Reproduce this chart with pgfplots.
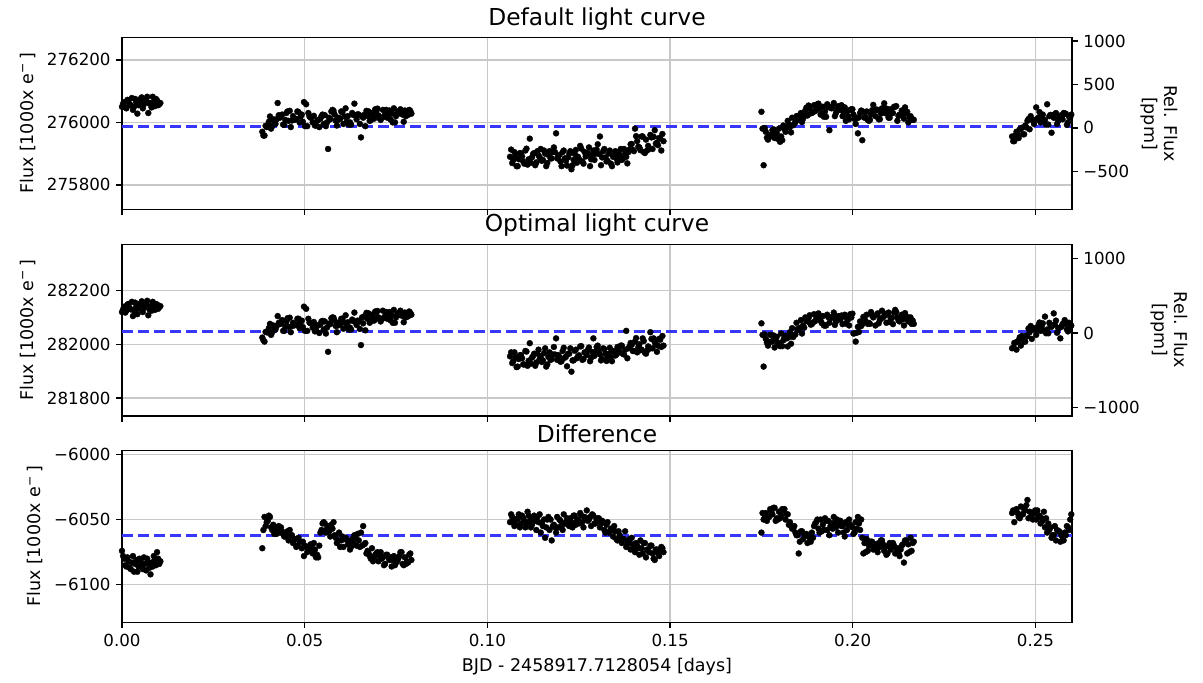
\documentclass[border=0pt]{standalone}
\usepackage{fontspec}
\setmainfont{DejaVu Sans}
\usepackage{pgfplots}
\usepackage{pgfplotstable}
\pgfplotsset{compat=1.18}
\definecolor{meanblue}{RGB}{55,55,255}
\definecolor{gridgray}{RGB}{200,200,200}

% time, default flux, optimal flux, difference
\pgfplotstableread{
t dflt opt diff
0.0000 276050 282120 -6074
0.0006 276065 282140 -6080
0.0012 276045 282125 -6086
0.0018 276070 282150 -6082
0.0024 276055 282130 -6088
0.0030 276040 282105 -6078
0.0036 276075 282155 -6084
0.0042 276028 282112 -6090
0.0048 276068 282145 -6080
0.0054 276080 282160 -6085
0.0060 276058 282135 -6079
0.0066 276072 282150 -6089
0.0072 276030 282108 -6083
0.0078 276062 282142 -6092
0.0084 276082 282158 -6086
0.0090 276052 282128 -6081
0.0096 276070 282148 -6075
0.0102 276058 282138 -6084
0.0003 276060 282130 -6078
0.0009 276048 282118 -6085
0.0015 276072 282148 -6079
0.0021 276058 282135 -6087
0.0027 276078 282158 -6083
0.0033 276050 282125 -6090
0.0039 276065 282140 -6081
0.0045 276055 282132 -6086
0.0051 276075 282152 -6082
0.0057 276045 282120 -6088
0.0063 276068 282145 -6084
0.0069 276082 282162 -6080
0.0075 276060 282130 -6087
0.0081 276048 282125 -6083
0.0087 276066 282140 -6078
0.0093 276075 282150 -6085
0.0099 276055 282132 -6080
0.0105 276062 282142 -6082
0.0384 275970 282025 -6072
0.0390 275958 282010 -6048
0.0396 275985 282045 -6052
0.0402 276002 282060 -6047
0.0408 275980 282035 -6056
0.0414 276010 282070 -6054
0.0420 275995 282055 -6058
0.0426 276062 282105 -6056
0.0432 276015 282075 -6060
0.0438 276025 282090 -6059
0.0444 275992 282050 -6063
0.0450 276030 282085 -6061
0.0456 276005 282065 -6066
0.0462 275985 282045 -6062
0.0468 276020 282080 -6068
0.0474 276010 282072 -6065
0.0480 276035 282095 -6070
0.0486 276000 282060 -6067
0.0492 276025 282088 -6072
0.0498 276065 282140 -6078
0.0504 276058 282132 -6071
0.0510 276030 282095 -6074
0.0516 276015 282078 -6069
0.0522 276000 282062 -6076
0.0528 275990 282048 -6073
0.0534 276005 282070 -6077
0.0540 275985 282042 -6070
0.0546 276020 282085 -6058
0.0552 275995 282055 -6052
0.0558 275988 282040 -6060
0.0564 275915 281972 -6055
0.0570 276010 282075 -6063
0.0576 276040 282100 -6057
0.0582 276025 282088 -6062
0.0588 275990 282045 -6068
0.0594 276015 282080 -6060
0.0600 276035 282095 -6066
0.0606 275995 282058 -6071
0.0612 276045 282108 -6064
0.0618 276020 282082 -6069
0.0624 276000 282062 -6073
0.0630 276030 282092 -6065
0.0636 276060 282118 -6062
0.0642 276010 282072 -6070
0.0648 276025 282085 -6066
0.0654 275952 281997 -6060
0.0660 276015 282078 -6055
0.0666 275988 282052 -6068
0.0672 276020 282095 -6074
0.0678 276005 282080 -6078
0.0684 276030 282110 -6072
0.0690 276012 282088 -6080
0.0696 276035 282118 -6076
0.0702 276022 282100 -6082
0.0708 276008 282085 -6075
0.0714 276040 282125 -6079
0.0720 276025 282105 -6084
0.0726 276015 282095 -6077
0.0732 276038 282120 -6081
0.0738 276028 282108 -6086
0.0744 276045 282128 -6078
0.0750 276020 282100 -6083
0.0756 276035 282115 -6080
0.0762 276042 282125 -6075
0.0768 276025 282105 -6084
0.0774 276038 282118 -6079
0.0780 276030 282112 -6082
0.0786 276040 282122 -6077
0.0792 276028 282110 -6081
0.0387 275958 282015 -6058
0.0393 275989 282046 -6055
0.0399 275987 282044 -6051
0.0405 276019 282076 -6048
0.0411 275988 282045 -6058
0.0417 276006 282063 -6061
0.0423 276010 282067 -6061
0.0429 276023 282080 -6055
0.0435 276021 282078 -6056
0.0441 275993 282050 -6061
0.0447 276008 282065 -6063
0.0453 276035 282097 -6059
0.0459 276037 282099 -6058
0.0465 276006 282068 -6062
0.0471 276008 282070 -6065
0.0477 276011 282073 -6071
0.0483 276033 282095 -6064
0.0489 276019 282081 -6067
0.0495 276002 282064 -6067
0.0501 275988 282050 -6070
0.0507 275988 282050 -6075
0.0513 276019 282081 -6073
0.0519 276017 282079 -6070
0.0525 276021 282083 -6068
0.0531 275990 282052 -6079
0.0537 276008 282070 -6079
0.0543 276012 282074 -6060
0.0549 276025 282087 -6053
0.0555 276023 282085 -6053
0.0561 276000 282062 -6057
0.0567 276015 282077 -6059
0.0573 276035 282097 -6054
0.0579 276037 282099 -6052
0.0585 276006 282068 -6064
0.0591 276008 282070 -6066
0.0597 276011 282073 -6071
0.0603 276033 282095 -6063
0.0609 276019 282081 -6065
0.0615 276002 282064 -6065
0.0621 275993 282055 -6067
0.0627 275993 282055 -6071
0.0633 276024 282086 -6068
0.0639 276022 282084 -6064
0.0645 276026 282088 -6061
0.0651 275995 282057 -6071
0.0657 276020 282100 -6070
0.0663 276024 282104 -6069
0.0669 276037 282117 -6076
0.0675 276035 282115 -6076
0.0681 276007 282087 -6080
0.0687 276022 282102 -6082
0.0693 276042 282122 -6077
0.0699 276044 282124 -6075
0.0705 276013 282093 -6078
0.0711 276015 282095 -6080
0.0717 276018 282098 -6085
0.0723 276040 282120 -6077
0.0729 276026 282106 -6079
0.0735 276009 282089 -6079
0.0741 276000 282080 -6081
0.0747 276000 282080 -6085
0.0753 276031 282111 -6082
0.0759 276029 282109 -6078
0.0765 276033 282113 -6075
0.0771 276002 282082 -6085
0.0777 276020 282100 -6084
0.0783 276024 282104 -6083
0.0789 276037 282117 -6076
0.1062 275890 281955 -6052
0.1068 275870 281930 -6048
0.1074 275905 281970 -6055
0.1080 275860 281915 -6050
0.1086 275882 281945 -6046
0.1092 275900 281960 -6053
0.1098 275875 281925 -6049
0.1104 275910 281975 -6056
0.1110 275865 281920 -6044
0.1116 275948 282004 -6051
0.1122 275888 281950 -6054
0.1128 275902 281965 -6047
0.1134 275872 281932 -6058
0.1140 275895 281980 -6052
0.1146 275915 281955 -6060
0.1152 275880 281940 -6055
0.1158 275900 281985 -6064
0.1164 275870 281925 -6050
0.1170 275908 281970 -6058
0.1176 275885 281945 -6066
0.1182 275920 281990 -6054
0.1188 275965 282022 -6060
0.1194 275892 281960 -6056
0.1200 275875 281935 -6051
0.1206 275905 281975 -6058
0.1212 275885 281950 -6053
0.1218 275862 281918 -6049
0.1224 275900 281965 -6055
0.1230 275850 281898 -6052
0.1236 275880 281940 -6047
0.1242 275912 281980 -6054
0.1248 275890 281955 -6050
0.1254 275925 281992 -6045
0.1260 275875 281942 -6052
0.1266 275905 281970 -6048
0.1272 275895 281960 -6043
0.1278 275920 281988 -6050
0.1284 275882 281950 -6055
0.1290 275910 282022 -6047
0.1296 275900 281972 -6053
0.1302 275930 281995 -6049
0.1308 275955 281962 -6056
0.1314 275888 281945 -6051
0.1320 275915 281982 -6058
0.1326 275875 281938 -6054
0.1332 275900 281965 -6060
0.1338 275868 281952 -6057
0.1344 275890 281975 -6063
0.1350 275908 281958 -6059
0.1356 275872 281990 -6066
0.1362 275895 281970 -6062
0.1368 275880 281995 -6068
0.1374 275915 281962 -6065
0.1380 275890 282050 -6071
0.1386 275905 281985 -6067
0.1392 275930 282005 -6073
0.1398 275912 281975 -6069
0.1404 275980 282010 -6075
0.1410 275940 281970 -6070
0.1416 275920 282000 -6077
0.1422 275955 281980 -6072
0.1428 275905 282012 -6068
0.1434 275945 281965 -6079
0.1440 275925 281992 -6074
0.1446 275960 282045 -6070
0.1452 275915 281985 -6076
0.1458 275975 282008 -6081
0.1464 275935 281972 -6073
0.1470 275950 282020 -6078
0.1476 275910 281990 -6071
0.1482 275940 281995 -6075
0.1065 275913 281970 -6046
0.1071 275880 281937 -6052
0.1077 275894 281951 -6054
0.1083 275860 281917 -6049
0.1089 275902 281959 -6056
0.1095 275891 281948 -6047
0.1101 275868 281925 -6051
0.1107 275916 281973 -6053
0.1113 275882 281939 -6047
0.1119 275871 281928 -6056
0.1125 275899 281956 -6049
0.1131 275863 281920 -6051
0.1137 275908 281965 -6048
0.1143 275888 281945 -6046
0.1149 275877 281934 -6053
0.1155 275910 281967 -6050
0.1161 275860 281917 -6056
0.1167 275896 281953 -6048
0.1173 275885 281942 -6050
0.1179 275905 281962 -6055
0.1185 275905 281962 -6056
0.1191 275885 281942 -6048
0.1197 275896 281953 -6050
0.1203 275860 281937 -6055
0.1209 275910 281987 -6046
0.1215 275877 281954 -6052
0.1221 275888 281965 -6054
0.1227 275908 281985 -6049
0.1233 275863 281940 -6056
0.1239 275899 281976 -6047
0.1245 275871 281948 -6051
0.1251 275882 281959 -6053
0.1257 275916 281993 -6047
0.1263 275868 281945 -6056
0.1269 275891 281968 -6049
0.1275 275902 281979 -6051
0.1281 275860 281937 -6048
0.1287 275894 281971 -6046
0.1293 275880 281957 -6053
0.1299 275913 281990 -6050
0.1305 275899 281976 -6049
0.1311 275863 281940 -6053
0.1317 275908 281985 -6052
0.1323 275888 281965 -6060
0.1329 275877 281954 -6052
0.1335 275910 281987 -6059
0.1341 275860 281937 -6058
0.1347 275896 281973 -6055
0.1353 275885 281962 -6065
0.1359 275905 281982 -6059
0.1365 275915 281995 -6066
0.1371 275884 281964 -6065
0.1377 275900 281980 -6059
0.1383 275869 281948 -6069
0.1389 275913 281992 -6065
0.1395 275931 281998 -6064
0.1401 275908 281975 -6073
0.1407 275956 282023 -6068
0.1413 275922 281989 -6072
0.1419 275911 281978 -6066
0.1425 275955 282022 -6076
0.1431 275902 281969 -6068
0.1437 275910 281977 -6073
0.1443 275915 281983 -6075
0.1449 275952 282020 -6070
0.1455 275954 282022 -6080
0.1461 275932 282000 -6073
0.1467 275927 281995 -6076
0.1473 275949 282017 -6073
0.1479 275963 282031 -6072
0.1750 276034 282078 -6060
0.1756 275863 281917 -6050
0.1762 275970 282020 -6045
0.1768 275945 281995 -6048
0.1774 275960 282035 -6042
0.1780 275975 282010 -6046
0.1786 275950 281988 -6041
0.1792 275965 282028 -6049
0.1798 275980 282005 -6044
0.1804 275955 282040 -6047
0.1810 275990 282015 -6043
0.1816 275970 282032 -6050
0.1822 276005 281992 -6046
0.1828 275985 282045 -6052
0.1834 276015 282060 -6057
0.1840 275995 282035 -6055
0.1846 276020 282080 -6062
0.1852 276008 282055 -6076
0.1858 276030 282090 -6059
0.1864 276012 282070 -6065
0.1870 276038 282100 -6062
0.1876 276022 282085 -6068
0.1882 276045 282108 -6064
0.1888 276030 282075 -6060
0.1894 276055 282112 -6055
0.1900 276040 282095 -6052
0.1906 276060 282115 -6057
0.1912 276025 282088 -6050
0.1918 276050 282105 -6054
0.1924 276035 282070 -6049
0.1930 276058 282110 -6058
0.1936 275975 282080 -6062
0.1942 276045 282098 -6053
0.1948 276062 282118 -6048
0.1954 276030 282085 -6056
0.1960 276052 282105 -6060
0.1966 276040 282092 -6051
0.1972 276020 282075 -6055
0.1978 276048 282110 -6063
0.1984 276035 282095 -6058
0.1990 276010 282070 -6050
0.1996 276042 282100 -6055
0.2002 276025 282040 -6061
0.2008 275995 282010 -6052
0.2014 275965 282065 -6048
0.2020 276030 282085 -6058
0.2026 275943 282075 -6064
0.2032 276015 282095 -6068
0.2038 276035 282110 -6065
0.2044 276005 282080 -6070
0.2050 276025 282120 -6067
0.2056 276056 282100 -6073
0.2062 276020 282070 -6069
0.2068 276040 282115 -6075
0.2074 276010 282090 -6071
0.2080 276045 282125 -6066
0.2086 276061 282105 -6074
0.2092 276028 282080 -6077
0.2098 276015 282118 -6070
0.2104 276042 282095 -6073
0.2110 276030 282075 -6068
0.2116 276050 282128 -6076
0.2122 276005 282100 -6072
0.2128 276025 282085 -6078
0.2134 276038 282110 -6070
0.2140 276012 282070 -6083
0.2146 276030 282095 -6066
0.2152 276000 282085 -6069
0.2158 276020 282100 -6064
0.2164 276010 282088 -6068
0.1753 275980 282035 -6045
0.1759 275982 282037 -6047
0.1765 275951 282006 -6051
0.1771 275953 282008 -6048
0.1777 275956 282011 -6044
0.1783 275978 282033 -6041
0.1789 275964 282019 -6051
0.1795 275947 282002 -6050
0.1801 275938 281993 -6049
0.1807 275943 281993 -6042
0.1813 275980 282024 -6042
0.1819 275983 282022 -6046
0.1825 275993 282026 -6054
0.1831 275968 282002 -6055
0.1837 275991 282027 -6057
0.1843 276001 282037 -6060
0.1849 276020 282057 -6062
0.1855 276023 282061 -6067
0.1861 276001 282040 -6059
0.1867 276021 282062 -6061
0.1873 276047 282088 -6061
0.1879 276054 282097 -6063
0.1885 276029 282073 -6067
0.1891 276033 282081 -6064
0.1897 276036 282086 -6053
0.1903 276058 282110 -6050
0.1909 276044 282096 -6060
0.1915 276027 282079 -6059
0.1921 276018 282070 -6058
0.1927 276018 282070 -6051
0.1933 276049 282101 -6051
0.1939 276047 282099 -6055
0.1945 276051 282103 -6057
0.1951 276020 282072 -6052
0.1957 276038 282090 -6050
0.1963 276042 282094 -6053
0.1969 276055 282107 -6055
0.1975 276033 282105 -6060
0.1981 276005 282077 -6052
0.1987 276020 282092 -6054
0.1993 276040 282112 -6054
0.1999 276042 282114 -6056
0.2005 276011 282041 -6060
0.2011 276013 282043 -6057
0.2017 276016 282046 -6053
0.2023 276038 282068 -6050
0.2029 276034 282102 -6076
0.2035 276017 282085 -6075
0.2041 276008 282076 -6074
0.2047 276008 282076 -6067
0.2053 276039 282107 -6067
0.2059 276037 282105 -6071
0.2065 276041 282109 -6073
0.2071 276010 282078 -6068
0.2077 276028 282096 -6066
0.2083 276032 282100 -6069
0.2089 276045 282113 -6071
0.2095 276043 282111 -6076
0.2101 276015 282083 -6068
0.2107 276030 282098 -6070
0.2113 276050 282118 -6070
0.2119 276052 282120 -6072
0.2125 276021 282089 -6076
0.2131 276023 282091 -6073
0.2137 276026 282094 -6069
0.2143 276048 282116 -6066
0.2149 276034 282102 -6076
0.2155 276017 282085 -6075
0.2161 276008 282076 -6074
0.2167 276008 282076 -6067
0.2436 275955 281985 -6045
0.2442 275940 282005 -6052
0.2448 275970 281980 -6042
0.2454 275950 282015 -6048
0.2460 275980 281995 -6040
0.2466 275962 282025 -6046
0.2472 275990 282010 -6043
0.2478 276005 282030 -6035
0.2484 275978 282045 -6044
0.2490 276010 282020 -6048
0.2496 275995 282060 -6045
0.2502 276048 282035 -6050
0.2508 276015 282070 -6047
0.2514 276000 282050 -6053
0.2520 276025 282078 -6051
0.2526 276008 282103 -6056
0.2532 276058 282055 -6060
0.2538 276020 282080 -6058
0.2544 275967 282065 -6064
0.2550 276015 282115 -6062
0.2556 276030 282088 -6066
0.2562 276005 282060 -6059
0.2568 276022 282022 -6067
0.2574 276010 282075 -6063
0.2580 276028 282090 -6060
0.2586 275992 282055 -6055
0.2592 276018 282080 -6058
0.2598 276025 282070 -6046
0.2439 275940 281988 -6043
0.2445 275958 282006 -6043
0.2451 275962 282010 -6045
0.2457 275978 282026 -6049
0.2463 275983 282031 -6046
0.2469 275962 282010 -6042
0.2475 275984 282032 -6039
0.2481 276011 282059 -6049
0.2487 276020 282068 -6048
0.2493 276006 282054 -6050
0.2499 276008 282056 -6043
0.2505 276011 282059 -6043
0.2511 276033 282081 -6047
0.2517 276019 282067 -6049
0.2523 276002 282050 -6044
0.2529 275993 282041 -6049
0.2535 275993 282041 -6053
0.2541 276024 282072 -6056
0.2547 276022 282070 -6062
0.2553 276026 282074 -6055
0.2559 275995 282043 -6058
0.2565 276013 282061 -6059
0.2571 276017 282065 -6062
0.2577 276030 282078 -6066
0.2583 276028 282076 -6062
0.2589 276000 282048 -6056
0.2595 276015 282063 -6050
}\lcdata

\pgfplotsset{
  panel/.style={
    scale only axis, width=570pt, height=103pt,
    xmin=0, xmax=0.26,
    xtick={0,0.05,0.1,0.15,0.2,0.25},
    scaled x ticks=false, scaled y ticks=false,
    grid=major, major grid style={gridgray, line width=0.8pt},
    axis line style={black, line width=0.8pt},
    tick style={black, line width=0.8pt},
    tick align=outside, major tick length=3.3pt,
    xtick pos=bottom, ytick pos=left,
    tick label style={font=\fontsize{10}{12}\selectfont},
    label style={font=\fontsize{10.5}{12}\selectfont},
    title style={font=\fontsize{14}{16}\selectfont, yshift=-5pt},
    ylabel={Flux [1000x e\textsuperscript{−}\,]},
  },
  twin/.style={
    scale only axis, width=570pt, height=103pt,
    xmin=0, xmax=0.26,
    axis x line=none, axis y line*=right,
    scaled y ticks=false,
    axis line style={black, line width=0.8pt},
    tick style={black, line width=0.8pt},
    tick align=outside, major tick length=3.3pt,
    tick label style={font=\fontsize{10}{12}\selectfont},
    label style={font=\fontsize{10.5}{12}\selectfont},
    ylabel={Rel. Flux\\{[ppm]}},
    ylabel style={align=center, rotate=180},
  },
  pts/.style={only marks, mark=*, mark size=1.8pt,
    mark options={draw=black, fill=black, line width=0.2pt}},
  meanline/.style={meanblue, line width=1.8pt, dash pattern=on 6.6pt off 3pt, no marks},
}

\begin{document}
\begin{tikzpicture}
\useasboundingbox (-73.2pt,22.6pt) rectangle (648.6pt,-386.6pt);

% default light curve
\begin{axis}[panel, at={(0pt,0pt)}, anchor=north west,
  title={Default light curve},
  ymin=275722, ymax=276271,
  ytick={275800,276000,276200}, yticklabels={275800,276000,276200},
  xticklabels={,,,,,}]
\addplot[pts] table[x=t, y=dflt] {\lcdata};
\addplot[meanline] coordinates {(0,275986) (0.26,275986)};
\end{axis}
\begin{axis}[twin, at={(0pt,0pt)}, anchor=north west,
  ymin=-940, ymax=1040,
  ytick={-500,0,500,1000}, yticklabels={−500,0,500,1000}]
\end{axis}

% optimal light curve
\begin{axis}[panel, at={(0pt,-124pt)}, anchor=north west,
  title={Optimal light curve},
  ymin=281733, ymax=282372,
  ytick={281800,282000,282200}, yticklabels={281800,282000,282200},
  xticklabels={,,,,,}]
\addplot[pts] table[x=t, y=opt] {\lcdata};
\addplot[meanline] coordinates {(0,282048) (0.26,282048)};
\end{axis}
\begin{axis}[twin, at={(0pt,-124pt)}, anchor=north west,
  ymin=-1111, ymax=1187,
  ytick={-1000,0,1000}, yticklabels={−1000,0,1000}]
\end{axis}

% difference
\begin{axis}[panel, at={(0pt,-247.8pt)}, anchor=north west,
  title={Difference},
  ymin=-6128.8, ymax=-5997.2,
  ytick={-6100,-6050,-6000}, yticklabels={−6100,−6050,−6000},
  xticklabels={0.00,0.05,0.10,0.15,0.20,0.25},
  xlabel={BJD - 2458917.7128054 [days]}]
\addplot[pts] table[x=t, y=diff] {\lcdata};
\addplot[meanline] coordinates {(0,-6062) (0.26,-6062)};
\end{axis}
\end{tikzpicture}
\end{document}
